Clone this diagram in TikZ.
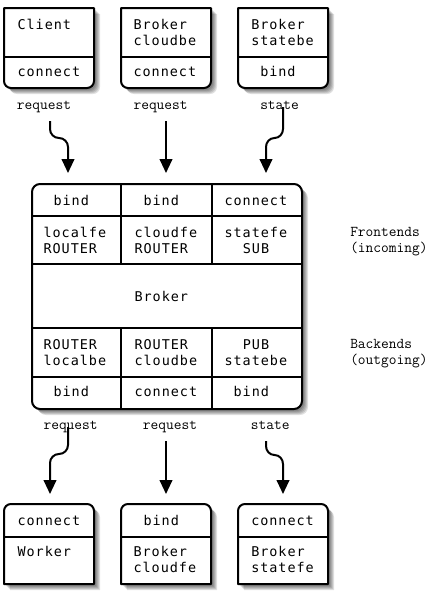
\documentclass[tikz,border=0pt]{standalone}
\usepackage{fontspec}
\newfontfamily\boxfont[LetterSpace=7.2]{DejaVu Sans Mono}
\usetikzlibrary{arrows.meta}
\tikzset{
  boxline/.style={line width=1.5pt, line join=round},
  shadowlayer/.style={fill=black, opacity=0.12},
  bt/.style={font=\boxfont\fontsize{10.1pt}{12pt}\selectfont, anchor=base west, inner sep=0pt},
  lbl/.style={font=\ttfamily\fontsize{11.25pt}{13pt}\selectfont, anchor=base west, inner sep=0pt},
  flow/.style={line width=1.5pt, -{Triangle[length=10.5pt,width=9.5pt]}},
}
% top box: square top, rounded bottom
\newcommand\zTopPath[2]{(#1,-8) -- (#2,-8) -- (#2,-81) arc[start angle=0,end angle=-90,radius=7] -- ({#1+7},-88) arc[start angle=270,end angle=180,radius=7] -- cycle}
% bottom box: rounded top, square bottom
\newcommand\zBotPath[2]{(#1,-584) -- (#2,-584) -- (#2,-511) arc[start angle=0,end angle=90,radius=7] -- ({#1+7},-504) arc[start angle=90,end angle=180,radius=7] -- cycle}
\newcommand\zBigPath{[rounded corners=6pt] (32,-184) rectangle (302,-409)}
\newcommand\zShadow[1]{\foreach \d in {2,3,4,5,6}{\fill[shadowlayer, shift={(\d,-\d)}] #1;}}
\begin{document}
\begin{tikzpicture}[x=0.75pt,y=0.75pt]
\useasboundingbox (0,0) rectangle (441,-608);
% shadows
\zShadow{\zTopPath{4}{94}}
\zShadow{\zTopPath{121}{211}}
\zShadow{\zTopPath{238}{328}}
\zShadow{\zBotPath{4}{94}}
\zShadow{\zBotPath{121}{211}}
\zShadow{\zBotPath{238}{328}}
\zShadow{\zBigPath}
% top boxes
\filldraw[boxline, fill=white] \zTopPath{4}{94};
\filldraw[boxline, fill=white] \zTopPath{121}{211};
\filldraw[boxline, fill=white] \zTopPath{238}{328};
\draw[boxline] (4,-57) -- (94,-57);
\draw[boxline] (121,-57) -- (211,-57);
\draw[boxline] (238,-57) -- (328,-57);
% bottom boxes
\filldraw[boxline, fill=white] \zBotPath{4}{94};
\filldraw[boxline, fill=white] \zBotPath{121}{211};
\filldraw[boxline, fill=white] \zBotPath{238}{328};
\draw[boxline] (4,-537) -- (94,-537);
\draw[boxline] (121,-537) -- (211,-537);
\draw[boxline] (238,-537) -- (328,-537);
% big box
\filldraw[boxline, fill=white] \zBigPath;
\draw[boxline] (32,-216) -- (302,-216);
\draw[boxline] (32,-264) -- (302,-264);
\draw[boxline] (32,-328) -- (302,-328);
\draw[boxline] (32,-377) -- (302,-377);
\draw[boxline] (121,-184) -- (121,-264);
\draw[boxline] (212,-184) -- (212,-264);
\draw[boxline] (121,-328) -- (121,-409);
\draw[boxline] (212,-328) -- (212,-409);

% texts top boxes
\node[bt] (client) at (17.3,-29) {Client};
\node[bt] (clientc) at (17.3,-76.7) {connect};
\node[bt] (bcb1) at (133.3,-29) {Broker};
\node[bt] (bcb2) at (133.3,-45) {cloudbe};
\node[bt] (bcbc) at (133.3,-76.7) {connect};
\node[bt] (bsb1) at (251,-29) {Broker};
\node[bt] (bsb2) at (251,-45) {statebe};
\node[bt] (bsbb) at (260,-76.7) {bind};

% big box texts
\node[bt] (f1) at (53.3,-205) {bind};
\node[bt] (f2) at (143.3,-205) {bind};
\node[bt] (f3) at (224.3,-205) {connect};
\node[bt] (lfe1) at (43.3,-237.3) {localfe};
\node[bt] (lfe2) at (43.3,-253.3) {ROUTER};
\node[bt] (cfe1) at (134.3,-237.3) {cloudfe};
\node[bt] (cfe2) at (134.3,-253.3) {ROUTER};
\node[bt] (sfe1) at (224.3,-237.3) {statefe};
\node[bt] (sfe2) at (242.6,-253.3) {SUB};
\node[bt] (broker) at (134.3,-301) {Broker};
\node[bt] (lbe1) at (43.3,-349.3) {ROUTER};
\node[bt] (lbe2) at (43.3,-365) {localbe};
\node[bt] (cbe1) at (134.3,-349.3) {ROUTER};
\node[bt] (cbe2) at (134.3,-365) {cloudbe};
\node[bt] (sbe1) at (242.6,-349.3) {PUB};
\node[bt] (sbe2) at (224.3,-365) {statebe};
\node[bt] (b1) at (53.3,-396.7) {bind};
\node[bt] (b2) at (134.3,-396.7) {connect};
\node[bt] (b3) at (233.4,-396.7) {bind};

% bottom box texts
\node[bt] (wc) at (17.3,-525) {connect};
\node[bt] (worker) at (17.3,-556.7) {Worker};
\node[bt] (bcfb) at (143.3,-525) {bind};
\node[bt] (bcf1) at (133.3,-556.7) {Broker};
\node[bt] (bcf2) at (133.3,-572.3) {cloudfe};
\node[bt] (bsfc) at (251,-525) {connect};
\node[bt] (bsf1) at (251,-556.7) {Broker};
\node[bt] (bsf2) at (251,-572.3) {statefe};

% side labels
\node[lbl] (fr1) at (350,-236.7) {Frontends};
\node[lbl] (fr2) at (350,-252.7) {(incoming)};
\node[lbl] (bk1) at (350,-348.3) {Backends};
\node[lbl] (bk2) at (350,-364.7) {(outgoing)};

% flow labels
\node[lbl] (rq1) at (16.7,-109) {request};
\node[lbl] (rq2) at (133.3,-109) {request};
\node[lbl] (st1) at (260,-109) {state};
\node[lbl] (rq3) at (43.3,-429) {request};
\node[lbl] (rq4) at (142.7,-429) {request};
\node[lbl] (st2) at (250.7,-429) {state};

% arrow coordinates
\coordinate (a1s) at (50,-121);  \coordinate (a1e) at (68,-173);
\coordinate (a2s) at (166,-121); \coordinate (a2e) at (166,-173);
\coordinate (a3s) at (283,-107); \coordinate (a3e) at (266,-173);
\coordinate (a4s) at (68,-427);  \coordinate (a4e) at (50,-494);
\coordinate (a5s) at (166,-441); \coordinate (a5e) at (166,-494);
\coordinate (a6s) at (266,-441); \coordinate (a6e) at (283,-494);

\draw[flow] (a1s) -- ++(0,-8) to[out=-90,in=180] ++(9,-9) to[out=0,in=90] ++(9,-9) -- (a1e);
\draw[flow] (a2s) -- (a2e);
\draw[flow] (a3s) -- ++(0,-22) to[out=-90,in=0] ++(-8.5,-9) to[out=180,in=90] ++(-8.5,-9) -- (a3e);
\draw[flow] (a4s) -- ++(0,-18) to[out=-90,in=0] ++(-9,-9) to[out=180,in=90] ++(-9,-9) -- (a4e);
\draw[flow] (a5s) -- (a5e);
\draw[flow] (a6s) -- ++(0,-5) to[out=-90,in=180] ++(8.5,-9) to[out=0,in=90] ++(8.5,-9) -- (a6e);
\end{tikzpicture}
\end{document}
